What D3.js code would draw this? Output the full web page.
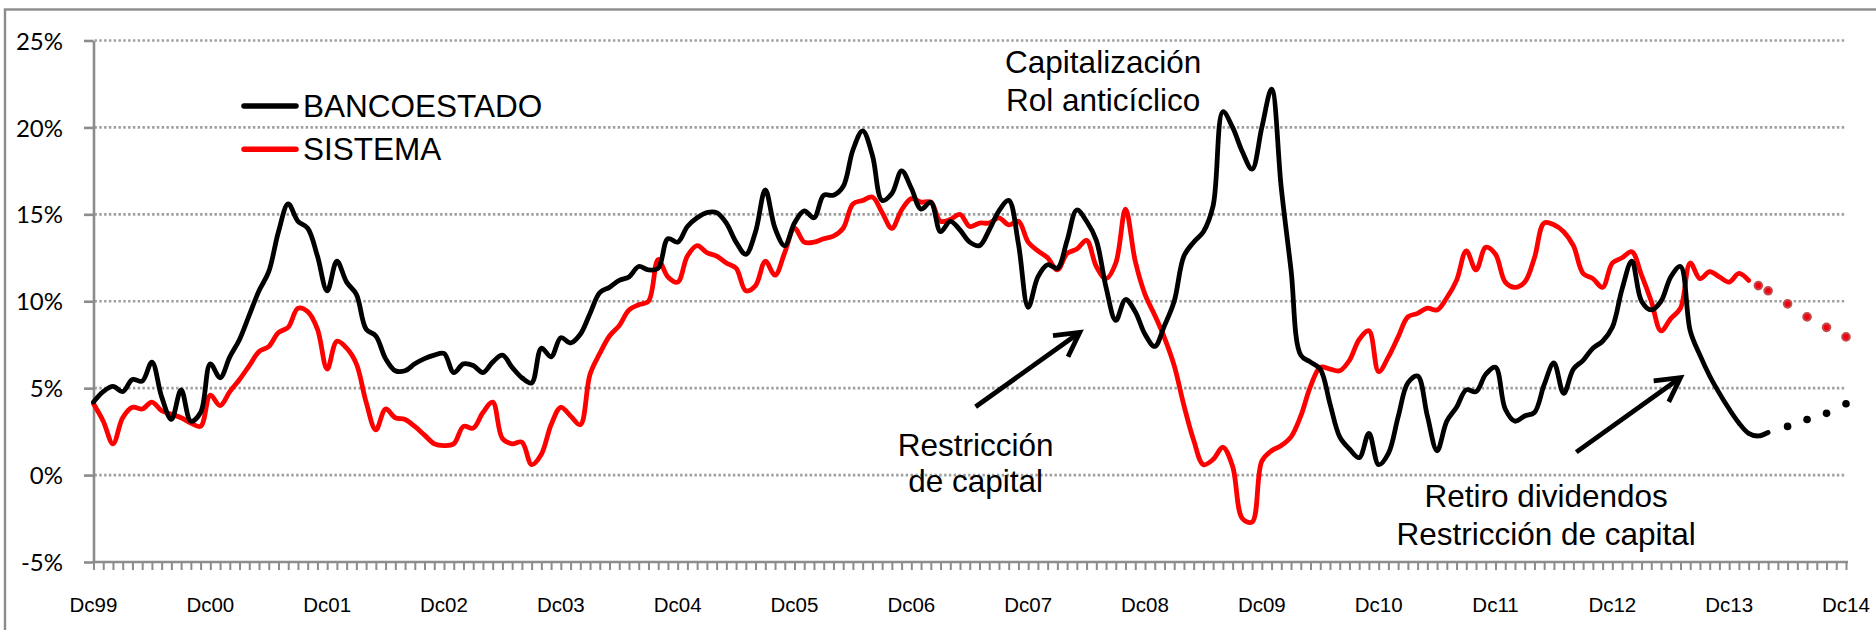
<!DOCTYPE html>
<html>
<head>
<meta charset="utf-8">
<script src="https://cdn.jsdelivr.net/npm/d3@7"></script>
<style>
  html, body { margin: 0; padding: 0; background: #fff; }
  svg { display: block; }
</style>
</head>
<body>
<svg id="chart" width="1876" height="630"></svg>
<script>
// ---------------- DATA ----------------
// Monthly values, month 0 = Dc99 ... month 180 = Dc14
const bancoEstado = [
  4.2,4.8,5.1,4.8,5.5,5.4,6.5,4.5,3.2,4.9,
  3.1,3.6,6.4,5.6,6.8,7.8,9.2,10.6,11.7,14.0,
  15.6,14.6,14.2,12.6,10.6,12.3,11.1,10.4,8.4,8.0,
  6.7,6.0,6.0,6.4,6.7,6.9,7.0,5.9,6.4,6.3,
  5.9,6.5,6.9,6.2,5.6,5.3,7.3,6.8,7.9,7.6,
  8.1,9.3,10.5,10.8,11.2,11.4,12.0,11.8,11.9,13.6,
  13.4,14.3,14.8,15.1,15.1,14.5,13.4,12.7,14.0,16.4,
  14.2,13.2,14.5,15.2,14.8,16.1,16.1,16.6,18.7,19.8,
  18.4,15.8,16.2,17.5,16.5,15.3,15.7,14.0,14.6,14.1,
  13.4,13.2,14.1,15.2,15.8,13.3,9.65,11.4,12.1,11.9,
  13.5,15.25,14.6,13.5,10.8,8.9,10.1,9.4,8.1,7.4,
  8.6,10.0,12.6,13.4,14.0,15.5,20.9,20.0,18.6,17.6,
  20.0,22.2,16.5,11.8,6.9,6.5,6.1,4.1,2.2,1.5,
  1.0,2.4,0.6,1.25,3.35,5.3,5.7,3.4,1.4,3.1,
  3.9,4.9,4.8,5.8,6.2,3.8,3.1,3.4,3.6,5.2,
  6.45,4.7,6.1,6.6,7.3,7.7,8.5,10.7,12.3,10.0,
  9.5,10.0,11.4,12.0,8.3,6.9,5.7,4.7,3.8,3.0,
  2.4,2.25,2.45
];
const sistema = [
  4.1,3.1,1.8,3.3,3.9,3.8,4.2,3.7,3.5,3.3,
  3.0,2.8,4.6,4.0,4.8,5.5,6.3,7.1,7.4,8.2,
  8.5,9.6,9.4,8.4,6.1,7.7,7.3,6.4,4.2,2.6,
  3.8,3.3,3.2,2.8,2.3,1.8,1.7,1.8,2.8,2.7,
  3.6,4.2,2.1,1.8,1.9,0.6,1.2,2.9,3.9,3.4,
  2.9,5.8,7.0,8.0,8.6,9.5,9.8,10.0,12.4,11.4,
  11.1,12.6,13.2,12.8,12.6,12.2,11.9,10.6,10.9,12.3,
  11.5,12.8,14.2,13.4,13.4,13.6,13.75,14.2,15.6,15.8,
  16.0,15.1,14.2,15.25,15.9,15.7,15.7,14.6,14.7,15.0,
  14.3,14.5,14.5,14.8,14.4,14.6,13.4,12.9,12.5,11.8,
  12.75,13.0,13.5,12.0,11.3,12.2,15.3,12.3,10.4,9.2,
  7.9,6.3,4.0,2.0,0.6,0.9,1.6,0.5,-2.5,-2.7,
  0.8,1.4,1.7,2.2,3.4,5.1,6.2,6.1,6.0,6.6,
  7.8,8.3,5.95,6.8,7.95,9.1,9.3,9.6,9.5,10.2,
  11.2,12.9,11.8,13.1,12.7,11.1,10.8,11.1,12.5,14.5,
  14.4,14.0,13.2,11.6,11.3,10.8,12.2,12.5,12.85,11.5,
  10.0,8.3,9.0,9.6,12.2,11.3,11.7,11.4,11.1,11.6,
  11.2
];
// Projection points (dotted)
const bancoProjMonths = [174, 176, 178, 180];
const bancoProjValues = [2.8, 3.2, 3.55, 4.1];
const sistemaProjMonths = [171, 172, 174, 176, 178, 180];
const sistemaProjValues = [10.9, 10.6, 9.85, 9.1, 8.5, 7.95];

const yTicks = [-5, 0, 5, 10, 15, 20, 25];
const xTickLabels = ["Dc99","Dc00","Dc01","Dc02","Dc03","Dc04","Dc05","Dc06",
                     "Dc07","Dc08","Dc09","Dc10","Dc11","Dc12","Dc13","Dc14"];
const seriesNames = ["BANCOESTADO", "SISTEMA"];

// Annotations in data coordinates [month, value]
const annotationTexts = [
  { lines: ["Capitalización", "Rol anticíclico"], m: 103.7, v: [23.11, 20.97] },
  { lines: ["Restricción", "de capital"], m: 90.6, v: [1.12, -0.98] },
  { lines: ["Retiro dividendos", "Restricción de capital"], m: 149.2, v: [-1.82, -4.03] }
];
const arrows = [
  { from: [90.6, 3.93], to: [101.3, 8.21] },
  { from: [152.3, 1.32], to: [163.0, 5.61] }
];

// ---------------- LAYOUT ----------------
const W = 1876, H = 630;
const plot = { left: 93.5, right: 1846, top: 40.5, bottom: 562 };
const svg = d3.select("#chart");

const x = d3.scaleLinear().domain([0, 180]).range([plot.left, plot.right]);
const y = d3.scaleLinear().domain([-5, 25]).range([plot.bottom, plot.top]);

const axisColor = "#8c8c8c";

// outer chart border (extends past the picture at right/bottom)
svg.append("rect")
  .attr("x", 5).attr("y", 9.5)
  .attr("width", W + 20).attr("height", H + 20)
  .attr("fill", "none").attr("stroke", axisColor).attr("stroke-width", 2.4);

// gridlines
svg.append("g").selectAll("line")
  .data(yTicks.filter(d => d > -5))
  .join("line")
  .attr("x1", plot.left + 1).attr("x2", plot.right)
  .attr("y1", d => y(d)).attr("y2", d => y(d))
  .attr("stroke", "#9e9e9e")
  .attr("stroke-width", 2.6)
  .attr("stroke-dasharray", "2.4,2.4");

// y axis
const yAxis = d3.axisLeft(y).tickValues(yTicks).tickSize(9.5).tickSizeOuter(0)
  .tickFormat(d => d + "%").tickPadding(20);
const gy = svg.append("g").attr("transform", `translate(${plot.left},0)`).call(yAxis);
gy.select(".domain").attr("stroke", axisColor).attr("stroke-width", 2.6);
gy.selectAll(".tick line").attr("stroke", axisColor).attr("stroke-width", 2.6);
gy.selectAll(".tick text")
  .attr("font-family", "Lato, 'Liberation Sans', sans-serif")
  .attr("font-size", 24).attr("fill", "#000")
  .attr("x", 63 - plot.left).attr("dy", "0.36em");

// x axis with monthly ticks
const xAxis = d3.axisBottom(x).tickValues(d3.range(0, 181)).tickSize(8)
  .tickSizeOuter(0).tickFormat("");
const gx = svg.append("g").attr("transform", `translate(0,${plot.bottom})`).call(xAxis);
gx.select(".domain").attr("stroke", axisColor).attr("stroke-width", 2.6)
  .attr("d", `M${plot.left},0H${plot.right + 2}`);
gx.selectAll(".tick line").attr("stroke", axisColor).attr("stroke-width", 2);

// x labels
svg.append("g").selectAll("text")
  .data(xTickLabels)
  .join("text")
  .attr("x", (d, i) => x(i * 12))
  .attr("y", 612)
  .attr("text-anchor", "middle")
  .attr("font-family", "'Liberation Sans', Arial, sans-serif")
  .attr("font-size", 20.5)
  .attr("fill", "#000")
  .text(d => d);

// lines
const line = d3.line()
  .x((d, i) => x(i))
  .y(d => y(d))
  .curve(d3.curveCatmullRom.alpha(0.5));

svg.append("path").datum(sistema)
  .attr("d", line).attr("fill", "none")
  .attr("stroke", "#ff0000").attr("stroke-width", 4.8)
  .attr("stroke-linejoin", "round").attr("stroke-linecap", "round");

svg.append("path").datum(bancoEstado)
  .attr("d", line).attr("fill", "none")
  .attr("stroke", "#000").attr("stroke-width", 4.8)
  .attr("stroke-linejoin", "round").attr("stroke-linecap", "round");

// projection dots
svg.append("g").selectAll("circle")
  .data(sistemaProjMonths.map((m, i) => [m, sistemaProjValues[i]]))
  .join("circle")
  .attr("cx", d => x(d[0])).attr("cy", d => y(d[1]))
  .attr("r", 3.8)
  .attr("fill", "#f00010")
  .attr("stroke", "#c24a4a").attr("stroke-width", 2);

svg.append("g").selectAll("circle")
  .data(bancoProjMonths.map((m, i) => [m, bancoProjValues[i]]))
  .join("circle")
  .attr("cx", d => x(d[0])).attr("cy", d => y(d[1]))
  .attr("r", 3.8)
  .attr("fill", "#000");

// legend
const legend = svg.append("g");
const legendColors = ["#000", "#ff0000"];
const legendY = [106, 149.3];
seriesNames.forEach((name, i) => {
  legend.append("line")
    .attr("x1", 244).attr("x2", 296)
    .attr("y1", legendY[i]).attr("y2", legendY[i])
    .attr("stroke", legendColors[i]).attr("stroke-width", 5.5)
    .attr("stroke-linecap", "round");
  legend.append("text")
    .attr("x", 303).attr("y", legendY[i] + 10.5)
    .attr("font-family", "'Liberation Sans', Arial, sans-serif")
    .attr("font-size", 31.5).attr("fill", "#000")
    .text(name);
});

// annotation texts
const ann = svg.append("g");
annotationTexts.forEach(a => {
  a.lines.forEach((t, j) => {
    ann.append("text")
      .attr("x", x(a.m)).attr("y", y(a.v[j]))
      .attr("text-anchor", "middle")
      .attr("font-family", "'Liberation Sans', Arial, sans-serif")
      .attr("font-size", 31.5).attr("fill", "#000")
      .text(t);
  });
});

// arrows
arrows.forEach(a => {
  const x0 = x(a.from[0]), y0 = y(a.from[1]);
  const x1 = x(a.to[0]), y1 = y(a.to[1]);
  const ang = Math.atan2(y1 - y0, x1 - x0);
  const headLen = 27, spread = 0.5;
  const hx1 = x1 - headLen * Math.cos(ang - spread), hy1 = y1 - headLen * Math.sin(ang - spread);
  const hx2 = x1 - headLen * Math.cos(ang + spread), hy2 = y1 - headLen * Math.sin(ang + spread);
  ann.append("line")
    .attr("x1", x0).attr("y1", y0)
    .attr("x2", x1 - 2 * Math.cos(ang)).attr("y2", y1 - 2 * Math.sin(ang))
    .attr("stroke", "#000").attr("stroke-width", 4.8);
  ann.append("path")
    .attr("d", `M${hx1},${hy1}L${x1},${y1}L${hx2},${hy2}`)
    .attr("fill", "none").attr("stroke", "#000").attr("stroke-width", 4.8)
    .attr("stroke-linejoin", "miter").attr("stroke-miterlimit", 10);
});
</script>
</body>
</html>
